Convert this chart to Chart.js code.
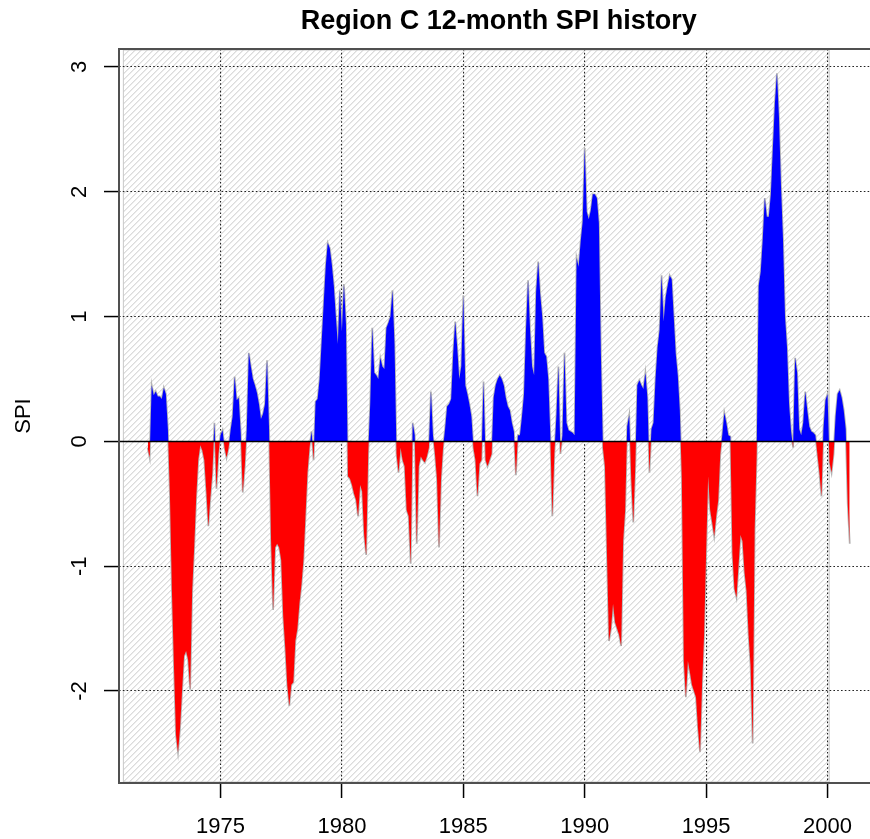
<!DOCTYPE html>
<html>
<head>
<meta charset="utf-8">
<script src="https://cdn.jsdelivr.net/npm/chart.js@4.4.1/dist/chart.umd.min.js"></script>
<style>
  html, body { margin:0; padding:0; background:#fff; overflow:hidden; }
  canvas { display:block; }
</style>
</head>
<body>
<canvas id="chart" width="890" height="839"></canvas>
<script>
// monthly 12-month SPI, first value = Jan 1972
const startYear = 1972;

const spi70s = [
  -0.05,-0.13, 0.45, 0.37, 0.40, 0.36, 0.36, 0.34, 0.43, 0.38, 0.10,-0.42, // 1972
  -1.20,-1.80,-2.35,-2.49,-2.30,-2.00,-1.72,-1.68,-1.75,-1.99,-1.20,-0.85, // 1973
  -0.45,-0.15,-0.03,-0.07,-0.15,-0.40,-0.68,-0.45,-0.25, 0.15,-0.38,-0.10, // 1974
   0.05, 0.09,-0.05,-0.13,-0.05, 0.09, 0.20, 0.52, 0.33, 0.35, 0.07,-0.41, // 1975
  -0.20, 0.10, 0.71, 0.60, 0.50, 0.45, 0.39, 0.30, 0.18, 0.22, 0.30, 0.65, // 1976
   0.10,-0.80,-1.35,-0.85,-0.82,-0.85,-0.95,-1.40,-1.65,-1.95,-2.12,-1.95, // 1977
  -1.93,-1.60,-1.50,-1.30,-1.15,-0.95,-0.60,-0.25,-0.05, 0.08,-0.15, 0.32, // 1978
   0.34, 0.50, 0.80, 1.10, 1.40, 1.59, 1.55, 1.42, 1.25, 1.00, 0.78, 1.21  // 1979
];
const spi80s = [
   0.88, 1.26, 0.94,-0.28,-0.30,-0.35,-0.42,-0.47,-0.60,-0.35,-0.40,-0.75, // 1980
  -0.91,-0.10, 0.30, 0.91, 0.55, 0.53, 0.50, 0.67, 0.60, 0.58, 0.91, 0.95, // 1981
   1.00, 1.21, 0.78,-0.10,-0.25,-0.05,-0.15,-0.20,-0.55,-0.60,-0.98, 0.15, // 1982
   0.05,-0.82,-0.20,-0.12,-0.15,-0.17,-0.12,-0.05, 0.40, 0.05,-0.10,-0.30, // 1983
  -0.85,-0.30,-0.05, 0.10, 0.28, 0.30, 0.34, 0.70, 0.96, 0.75, 0.50, 0.60, // 1984
   1.17, 0.45, 0.38, 0.30, 0.20,-0.05,-0.15,-0.44,-0.18,-0.15, 0.48,-0.15, // 1985
  -0.20,-0.15,-0.10, 0.35, 0.45, 0.50, 0.53, 0.50, 0.45, 0.35, 0.28, 0.25, // 1986
   0.15, 0.08,-0.27, 0.05, 0.05, 0.20, 0.38, 0.90, 1.29, 0.89, 0.60, 0.53, // 1987
   1.20, 1.44, 1.18, 1.00, 0.71, 0.68, 0.50, 0.05,-0.60,-0.10, 0.20, 0.60, // 1988
  -0.10, 0.05, 0.71, 0.15, 0.09, 0.08, 0.07, 0.05, 1.47, 1.40, 1.60, 1.76  // 1989
];
const spi90s = [
   2.35, 1.84, 1.78, 1.85, 1.98, 1.98, 1.95, 1.75, 0.70,-0.05,-0.20,-0.90, // 1990
  -1.60,-1.50,-1.30,-1.45,-1.50,-1.55,-1.64,-0.80,-0.55, 0.12, 0.21,-0.30, // 1991
  -0.65,-0.20, 0.45, 0.49, 0.45, 0.42, 0.55, 0.35,-0.25, 0.10, 0.15, 0.50, // 1992
   0.75, 0.89, 1.33, 0.96, 1.15, 1.25, 1.33, 1.30, 1.00, 0.70, 0.53, 0.25, // 1993
  -0.30,-1.76,-2.05,-1.76,-1.85,-1.95,-2.00,-2.05,-2.30,-2.49,-1.95,-1.55, // 1994
  -0.90,-0.28,-0.55,-0.65,-0.76,-0.60,-0.47,-0.10, 0.05, 0.23, 0.15, 0.05, // 1995
   0.04,-0.90,-1.18,-1.25,-1.00,-0.75,-0.80,-1.05,-1.20,-1.55,-1.80,-2.42, // 1996
  -0.70,-0.10, 1.25, 1.36, 1.62, 1.95, 1.80, 1.80, 1.98, 2.35, 2.71, 2.95, // 1997
   2.60, 2.05, 1.62, 1.00, 0.75, 0.30, 0.08,-0.05, 0.67, 0.55, 0.10, 0.05, // 1998
   0.15, 0.40, 0.25, 0.12, 0.08, 0.07, 0.05,-0.10,-0.25,-0.44, 0.10, 0.33  // 1999
];
const spi00s = [
   0.38,-0.17,-0.25,-0.10, 0.20, 0.38, 0.41, 0.35, 0.25, 0.10,-0.50,-0.82  // 2000
];

const yearTicks = [1975, 1980, 1985, 1990, 1995, 2000];
const spiTicks = [-2, -1, 0, 1, 2, 3];
const titleText = "Region C 12-month SPI history";
const yLabel = "SPI";

const values = [...spi70s, ...spi80s, ...spi90s, ...spi00s];
const points = values.map((v, i) => ({ x: startYear + i / 12, y: v }));

const FONT = "Liberation Sans, Arial, sans-serif";

// hatched background rectangle, drawn under the grid
const hatchPlugin = {
  id: "hatch",
  beforeDraw(chart) {
    const { ctx, chartArea: a, scales: { x } } = chart;
    const x0 = x.getPixelForValue(1971.0);
    const x1 = x.getPixelForValue(2000.07);
    const y0 = a.top + 1, y1 = a.bottom - 1;
    const h = y1 - y0;
    ctx.save();
    ctx.beginPath();
    ctx.rect(x0, y0, x1 - x0, y1 - y0);
    ctx.clip();
    ctx.strokeStyle = "#c8c8c8";
    ctx.lineWidth = 1;
    ctx.beginPath();
    for (let s = x0 - h; s < x1; s += 6) {
      ctx.moveTo(s, y1);
      ctx.lineTo(s + h, y0);
    }
    ctx.stroke();
    ctx.restore();
    ctx.save();
    ctx.strokeStyle = "#c8c8c8";
    ctx.lineWidth = 1;
    ctx.strokeRect(x0, y0, x1 - x0, y1 - y0);
    ctx.restore();
  }
};

// zero line, frame, rotated y labels, titles
const framePlugin = {
  id: "frame",
  afterDraw(chart) {
    const { ctx, chartArea: a, scales: { y } } = chart;
    ctx.save();
    const y0 = y.getPixelForValue(0);
    ctx.strokeStyle = "#000";
    ctx.lineWidth = 1.5;
    ctx.beginPath();
    ctx.moveTo(a.left, y0);
    ctx.lineTo(a.right, y0);
    ctx.stroke();

    ctx.strokeStyle = "#505050";
    ctx.lineWidth = 2;
    ctx.strokeRect(a.left, a.top, a.right - a.left, a.bottom - a.top);

    ctx.fillStyle = "#000";
    ctx.font = "22px " + FONT;
    ctx.textAlign = "center";
    ctx.textBaseline = "middle";
    spiTicks.forEach(v => {
      ctx.save();
      ctx.translate(80, y.getPixelForValue(v));
      ctx.rotate(-Math.PI / 2);
      ctx.fillText(String(v), 0, 0);
      ctx.restore();
    });

    ctx.save();
    ctx.translate(24, (a.top + a.bottom) / 2);
    ctx.rotate(-Math.PI / 2);
    ctx.fillText(yLabel, 0, 0);
    ctx.restore();

    ctx.font = "bold 27px " + FONT;
    ctx.fillText(titleText, (a.left + a.right) / 2, 22);
    ctx.restore();
  }
};

const gridOpts = {
  color: "#222",
  lineWidth: 1.1,
  drawTicks: true,
  tickLength: 15,
  tickColor: "#000",
  tickWidth: 1.5,
  tickBorderDash: []
};

new Chart(document.getElementById("chart"), {
  type: "line",
  data: {
    datasets: [
      {
        data: points,
        borderColor: "rgba(0,0,0,0)",
        borderWidth: 0,
        pointRadius: 0,
        tension: 0,
        fill: { target: "origin", above: "#0000ff", below: "#ff0000" },
        order: 1
      },
      {
        data: points,
        borderColor: "#b4b4b4",
        borderWidth: 1.8,
        pointRadius: 0,
        tension: 0,
        fill: false,
        order: 2
      }
    ]
  },
  options: {
    responsive: false,
    animation: false,
    layout: { padding: { top: 49, right: 11.5, left: 0, bottom: 0 } },
    plugins: { legend: { display: false }, tooltip: { enabled: false }, title: { display: false } },
    scales: {
      x: {
        type: "linear",
        min: 1970.82,
        max: 2002.1,
        afterBuildTicks: s => { s.ticks = yearTicks.map(v => ({ value: v })); },
        afterFit: s => { s.height = 56; },
        ticks: { font: { family: FONT, size: 22 }, color: "#000", padding: 16, maxRotation: 0, callback: v => String(v) },
        grid: gridOpts,
        border: { display: false, dash: [1.6, 2.2] }
      },
      y: {
        type: "linear",
        min: -2.737,
        max: 3.144,
        afterBuildTicks: s => { s.ticks = spiTicks.map(v => ({ value: v })); },
        afterFit: s => { s.width = 119; },
        ticks: { display: false },
        grid: gridOpts,
        border: { display: false, dash: [1.6, 2.2] }
      }
    }
  },
  plugins: [hatchPlugin, framePlugin]
});
</script>
</body>
</html>
